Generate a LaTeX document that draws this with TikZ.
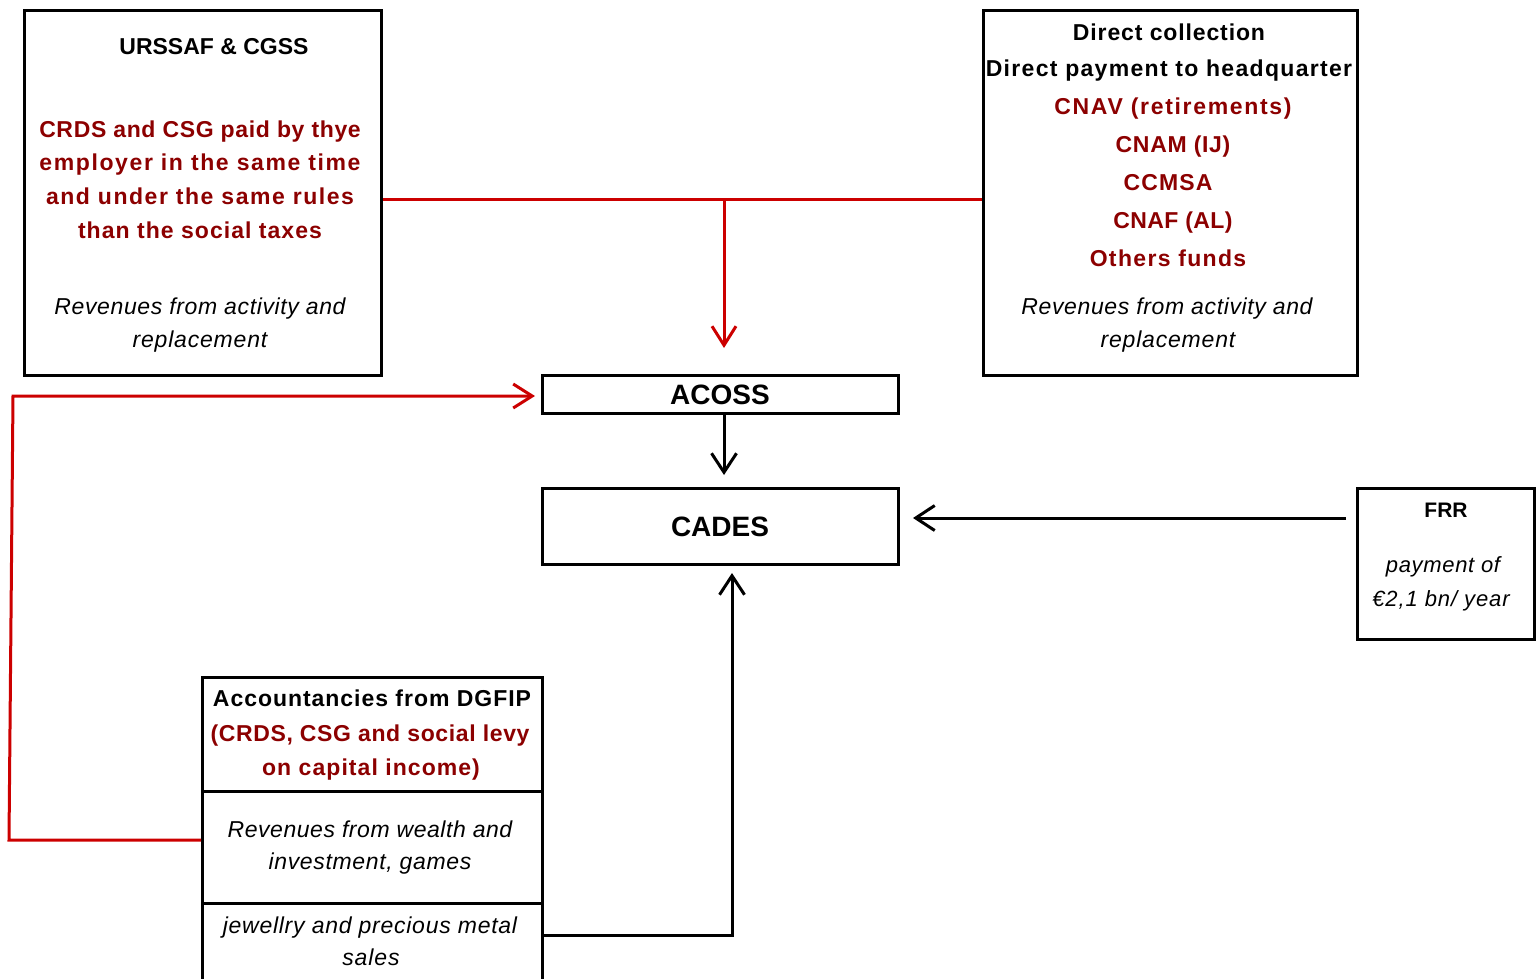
\documentclass[tikz,border=0pt]{standalone}
\usepackage{fontspec}
\setmainfont{Liberation Sans}
\usetikzlibrary{arrows.meta,calc}
\definecolor{dred}{RGB}{140,0,0}
\definecolor{lred}{RGB}{204,0,0}
\newcommand{\lsp}[2]{{\addfontfeature{LetterSpace=#1}#2}}
\tikzset{
  box/.style={draw=black, line width=3pt, anchor=north west, inner sep=0pt},
  txt/.style={inner sep=0pt, text height=16.5pt, text depth=0pt},
  tb/.style={txt, font=\fontsize{23}{27}\selectfont\bfseries, text=black},
  tr/.style={txt, font=\fontsize{23}{27}\selectfont\bfseries, text=dred},
  ti/.style={txt, font=\fontsize{23}{27}\selectfont\itshape, text=black},
  tbig/.style={inner sep=0pt, text height=20pt, text depth=0pt, font=\fontsize{28}{32}\selectfont\bfseries, text=black},
  redarrow/.style={draw=lred, line width=3pt, -{Straight Barb[length=19pt,width=24pt]}},
  redline/.style={draw=lred, line width=3pt},
  blackarrow/.style={draw=black, line width=3pt, -{Straight Barb[length=19pt,width=25pt]}},
}
\begin{document}
\begin{tikzpicture}[x=1pt,y=-1pt]
\useasboundingbox (0,0) rectangle (1537,978);
% boxes
\node[box, minimum width=357pt, minimum height=365pt] (urssaf) at (23,9) {};
\node[box, minimum width=374pt, minimum height=365pt] (direct) at (982,9) {};
\node[box, minimum width=356pt, minimum height=38pt] (acoss) at (541,374) {};
\node[box, minimum width=356pt, minimum height=76pt] (cades) at (541,487) {};
\node[box, minimum width=177pt, minimum height=151pt] (frr) at (1356,487) {};
\node[box, minimum width=340pt, minimum height=114pt] (dg1) at (201,676) {};
\node[box, minimum width=340pt, minimum height=112pt] (dg2) at (201,790) {};
\node[box, minimum width=340pt, minimum height=100pt] (dg3) at (201,902) {};
% URSSAF texts
\node[tb] (u1) at (214,46) {URSSAF \& CGSS};
\node[tr] (u2) at (200,129) {\lsp{2.8}{CRDS and CSG paid by thye}};
\node[tr] (u3) at (200,162) {\lsp{7}{employer in the same time}};
\node[tr] (u4) at (200,196) {\lsp{6.7}{and under the same rules}};
\node[tr] (u5) at (200,230) {\lsp{4.5}{than the social taxes}};
\node[ti] (u6) at (200,306) {\lsp{2.7}{Revenues from activity and}};
\node[ti] (u7) at (200,339) {\lsp{3.5}{replacement}};
% Direct texts
\node[tb] (d1) at (1169,32) {\lsp{3.8}{Direct collection}};
\node[tb] (d2) at (1169,68) {\lsp{5.7}{Direct payment to headquarter}};
\node[tr] (d3) at (1173,106) {\lsp{7.3}{CNAV (retirements)}};
\node[tr] (d4) at (1173,144) {\lsp{2.9}{CNAM (IJ)}};
\node[tr] (d5) at (1168,182) {\lsp{5}{CCMSA}};
\node[tr] (d6) at (1173,220) {\lsp{1.8}{CNAF (AL)}};
\node[tr] (d7) at (1168,258) {\lsp{5.8}{Others funds}};
\node[ti] (d8) at (1167,306) {\lsp{2.7}{Revenues from activity and}};
\node[ti] (d9) at (1168,339) {\lsp{3.5}{replacement}};
% center
\node[tbig] (acosst) at (720,394) {ACOSS};
\node[tbig] (cadest) at (720,526) {CADES};
% FRR
\node[tb, font=\fontsize{21}{25}\selectfont\bfseries, text height=15pt] (f1) at (1446,510) {FRR};
\node[ti, font=\fontsize{22}{26}\selectfont\itshape, text height=16pt] (f2) at (1443,564) {\lsp{3}{payment of}};
\node[ti, font=\fontsize{22}{26}\selectfont\itshape, text height=16pt] (f3) at (1441,598) {\lsp{4}{€2,1 bn/ year}};
% DGFIP
\node[tb] (g1) at (372,698) {\lsp{4.2}{Accountancies from DGFIP}};
\node[tr] (g2) at (370,733) {\lsp{2.8}{(CRDS, CSG and social levy}};
\node[tr] (g3) at (371,767) {\lsp{4.6}{on capital income)}};
\node[ti] (g4) at (370,829) {\lsp{2.4}{Revenues from wealth and}};
\node[ti] (g5) at (370,861) {\lsp{2.8}{investment, games}};
\node[ti] (g6) at (370,925) {\lsp{3.2}{jewellry and precious metal}};
\node[ti] (g7) at (371,957) {\lsp{4}{sales}};
% connectors
\coordinate (j) at (724,199);
\draw[redline] (urssaf.east |- j) -- (direct.west |- j);
\draw[redarrow, shorten >=26pt] (j) -- (j |- acoss.north);
\coordinate (lc1) at (9,840);
\coordinate (lc2) at (13,396);
\draw[redarrow, shorten >=6pt] (dg2.west |- lc1) -- (lc1) -- (lc2) -- (acoss.west |- lc2);
\coordinate (ab) at (724,412);
\draw[blackarrow, shorten >=12pt] (ab) -- (ab |- cades.north);
\coordinate (fr) at (1356,518);
\draw[blackarrow, shorten <=10pt, shorten >=13pt] (fr) -- (cades.east |- fr);
\coordinate (gb) at (732,935);
\draw[blackarrow, shorten >=7pt] (dg3.east |- gb) -- (gb) -- (gb |- cades.south);
\end{tikzpicture}
\end{document}
